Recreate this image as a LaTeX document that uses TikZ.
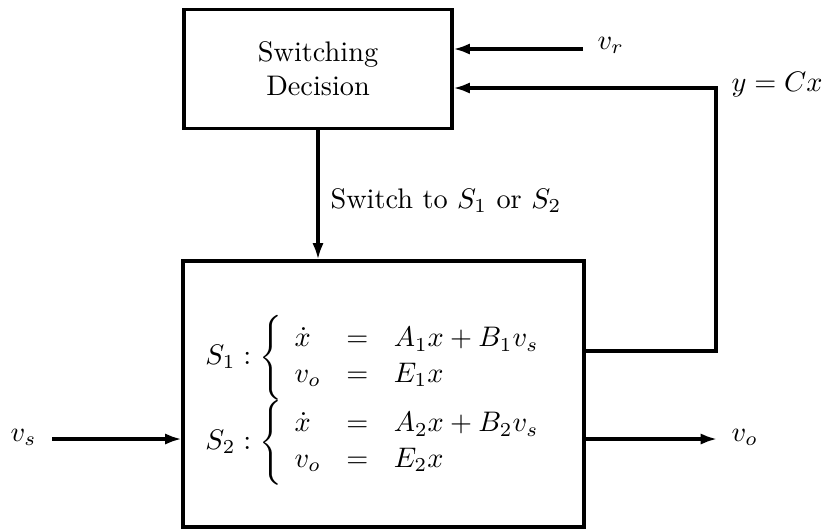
\documentclass[tikz,border=0pt]{standalone}
\usetikzlibrary{arrows.meta}
\newcommand{\bracestrut}{\rule[-11pt]{0pt}{27pt}}
\begin{document}
\begin{tikzpicture}[x=0.3534pt,y=-0.3534pt,
  blk/.style={draw,line width=1.1pt,inner sep=0pt,align=center},
  arr/.style={line width=1.1pt,-{Latex[length=5.8pt,width=4pt]}},
  lbl/.style={inner sep=0pt}]
\useasboundingbox (0,0) rectangle (827,529);
\node[blk,minimum width=94.7pt,minimum height=41.9pt] (top) at (318,69) {Switching\\Decision};
\node[blk,minimum width=141.7pt,minimum height=94pt] (bot) at (383.5,394) {};
\node[lbl] (eq) at (380,400)
 {$\setlength{\arraycolsep}{4.5pt}\renewcommand{\arraystretch}{1.05}\begin{array}{@{}l@{}}
 S_1 : \left\{\bracestrut \begin{array}{lcl} \dot{x} & = & A_1x+B_1v_s \\ v_o & = & E_1x \end{array}\right. \\[3.5pt]
 S_2 : \left\{\bracestrut \begin{array}{lcl} \dot{x} & = & A_2x+B_2v_s \\ v_o & = & E_2x \end{array}\right.
 \end{array}$};
\coordinate (vr) at (583,49);
\coordinate (fbr) at (716,351);
\coordinate (fbt) at (716,88);
\coordinate (vo) at (717,439);
\coordinate (vs) at (52,439);
\draw[arr] (top.south) -- (top.south |- bot.north);
\draw[arr] (vr) -- (vr -| top.east);
\draw[arr] (fbr -| bot.east) -- (fbr) -- (fbt) -- (fbt -| top.east);
\draw[arr] (vo -| bot.east) -- (vo);
\draw[arr] (vs) -- (vs -| bot.west);
\node[lbl,anchor=base west] (sw) at (330,208) {Switch to $S_1$ or $S_2$};
\node[lbl,anchor=base west] (lvr) at (597,49) {$v_r$};
\node[lbl,anchor=base west] (lyc) at (731,91) {$y = Cx$};
\node[lbl,anchor=base west] (lvo) at (731,441) {$v_o$};
\node[lbl,anchor=base west] (lvs) at (10,441) {$v_s$};
\end{tikzpicture}
\end{document}
